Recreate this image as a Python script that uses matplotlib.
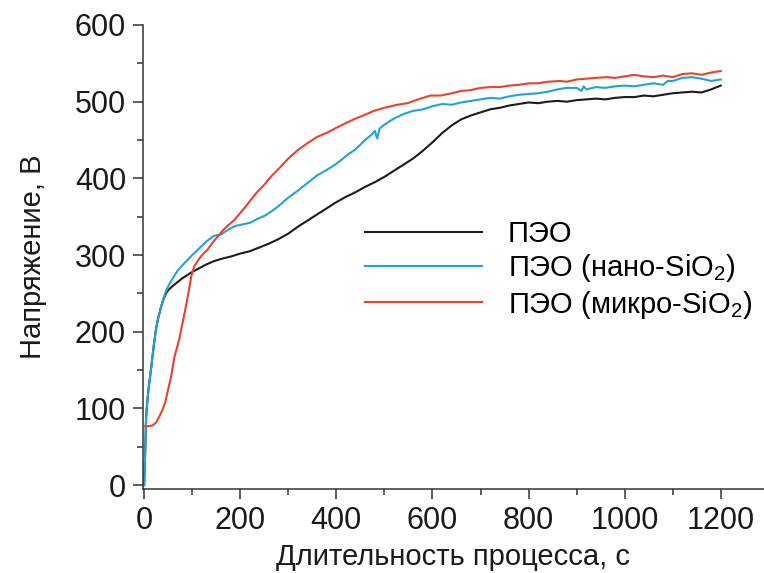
import matplotlib
matplotlib.use("Agg")
import matplotlib.pyplot as plt
from matplotlib.ticker import MultipleLocator

plt.rcParams['font.family'] = ['Liberation Sans', 'DejaVu Sans']
plt.rcParams['mathtext.default'] = 'regular'

# Voltage–time curves of the PEO process (s, V)
t_peo = [0, 2, 4, 6, 9, 12, 15, 20, 25, 30, 35, 40, 46, 53, 60, 70, 80, 90, 100, 115,
         130, 145, 160, 180, 200, 220, 240, 260, 280, 300, 320, 340, 360, 380, 400,
         420, 440, 460, 480, 500, 520, 540, 560, 580, 600, 620, 640, 660, 680, 700,
         720, 740, 760, 780, 800, 820, 840, 860, 880, 900, 920, 940, 960, 980, 1000,
         1020, 1040, 1060, 1080, 1100, 1120, 1140, 1160, 1180, 1200]
u_peo = [0, 40, 88, 105, 125, 140, 155, 182, 205, 220, 232, 242, 251, 256, 260, 265,
         270, 274, 278, 283, 288, 292, 295, 298, 302, 305, 310, 315, 321, 328, 337,
         345, 353, 361, 369, 376, 382, 389, 395, 402, 410, 418, 426, 436, 447, 459,
         469, 477, 482, 486, 490, 492, 495, 497, 499, 498, 500, 501, 500, 502, 503,
         504, 503, 505, 506, 506, 508, 507, 509, 511, 512, 513, 512, 516, 521]

t_nano = [0, 2, 4, 6, 9, 12, 15, 20, 25, 30, 35, 40, 46, 53, 60, 70, 83, 100, 115,
          130, 145, 160, 175, 190, 205, 220, 235, 250, 265, 280, 300, 320, 340, 360,
          380, 400, 420, 440, 460, 475, 480, 485, 490, 500, 520, 540, 560, 580, 600,
          620, 640, 660, 680, 700, 720, 740, 760, 780, 800, 820, 840, 860, 880, 900,
          910, 915, 920, 940, 960, 980, 1000, 1020, 1040, 1060, 1080, 1090, 1100,
          1120, 1140, 1160, 1180, 1200]
u_nano = [0, 40, 88, 105, 125, 140, 155, 182, 205, 220, 232, 243, 254, 263, 270, 280,
          289, 300, 309, 318, 325, 327, 333, 338, 340, 342, 347, 351, 357, 364, 375,
          384, 394, 404, 411, 419, 429, 438, 450, 458, 462, 452, 465, 470, 478, 484,
          488, 490, 494, 497, 496, 499, 501, 503, 505, 504, 507, 509, 510, 511, 513,
          516, 518, 518, 514, 520, 516, 519, 518, 520, 521, 520, 522, 524, 522, 527,
          527, 531, 532, 530, 527, 529]

t_micro = [2, 4, 10, 18, 25, 32, 38, 44, 50, 56, 63, 73, 84, 92, 98, 104, 111, 118,
           125, 132, 142, 153, 165, 177, 188, 200, 211, 222, 235, 249, 265, 284, 300,
           320, 340, 360, 382, 400, 423, 440, 460, 478, 500, 527, 548, 570, 596, 617,
           640, 660, 679, 700, 720, 740, 760, 780, 803, 820, 840, 866, 880, 900, 920,
           940, 963, 980, 1000, 1020, 1040, 1060, 1080, 1100, 1120, 1140, 1160, 1180,
           1200]
u_micro = [77, 77, 77, 78, 82, 90, 98, 108, 125, 141, 167, 190, 224, 250, 272, 285,
           292, 298, 303, 307, 316, 324, 333, 340, 346, 355, 363, 372, 382, 391, 403,
           415, 426, 437, 446, 454, 460, 466, 473, 478, 483, 488, 492, 496, 498, 503,
           508, 508, 511, 514, 515, 518, 519, 519, 521, 522, 524, 524, 526, 527, 526,
           529, 530, 531, 532, 531, 533, 535, 533, 532, 534, 532, 536, 537, 535, 538,
           540]

labels = ['ПЭО', 'ПЭО (нано-SiO$_2$)', 'ПЭО (микро-SiO$_2$)']
colors = ['#1c1c1c', '#22a2d6', '#e8432d']

fig = plt.figure(figsize=(7.64, 5.73), dpi=100)
ax = fig.add_axes([0.1868, 0.1466, 0.8132, 0.8098])

for t, u, lab, c in zip([t_peo, t_nano, t_micro], [u_peo, u_nano, u_micro], labels, colors):
    ax.plot(t, u, color=c, lw=1.5, label=lab)

ax.set_xlim(-3, 1290)
ax.set_ylim(-5, 600)
ax.xaxis.set_major_locator(MultipleLocator(200))
ax.xaxis.set_minor_locator(MultipleLocator(100))
ax.yaxis.set_major_locator(MultipleLocator(100))
ax.yaxis.set_minor_locator(MultipleLocator(50))

for side in ['top', 'right']:
    ax.spines[side].set_visible(False)
for side in ['left', 'bottom']:
    ax.spines[side].set_color('#333333')
    ax.spines[side].set_linewidth(1.1)

ax.tick_params(which='major', direction='out', length=7, width=1.1, colors='#333333',
               labelsize=22, labelcolor='#1a1a1a', pad=5)
ax.tick_params(which='minor', direction='out', length=4, width=1.1, colors='#333333')

ax.set_xlabel('Длительность процесса, с', fontsize=21, color='#1a1a1a', labelpad=5)
ax.set_ylabel('Напряжение, В', fontsize=21, color='#1a1a1a', labelpad=20)

ax.legend(loc='upper left', bbox_to_anchor=(0.358, 0.58), frameon=False,
          fontsize=21, handlelength=4.0, handletextpad=0.9, labelspacing=0.15,
          borderpad=0, borderaxespad=0)

fig.savefig('out.png', dpi=100)
